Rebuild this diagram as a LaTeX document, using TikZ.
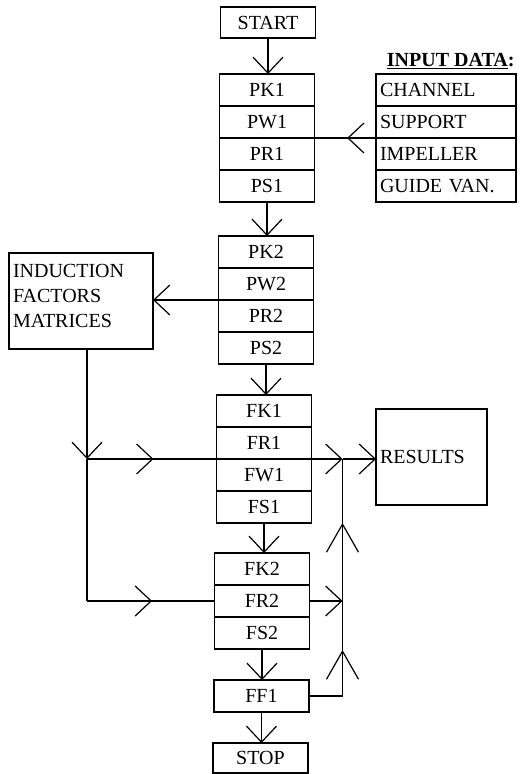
\documentclass[tikz,border=0pt]{standalone}
\usepackage{fontspec}
\setmainfont{Liberation Serif}
\usetikzlibrary{arrows.meta,positioning,decorations.markings}
\tikzset{
  vbarb/.tip={Straight Barb[length=16pt,width=30pt]},
  longbarb/.tip={Straight Barb[length=28pt,width=32pt]},
  cell/.style={draw, minimum width=95pt, minimum height=32pt, inner sep=0pt, outer sep=0pt},
  datacell/.style={cell, minimum width=140pt, text width=132pt, inner xsep=4pt, align=left},
  barbat/.style={postaction={decorate, decoration={markings, mark=at position #1 with {\arrow{vbarb}}}}}
}
\begin{document}
\begin{tikzpicture}[x=1pt, y=-1pt, line width=1.2pt, >=vbarb, font=\fontsize{20}{25}\selectfont]
  \useasboundingbox (0,0) rectangle (525,774);

  % Start and first block
  \node[cell, minimum height=31pt] (start) at (268,22.5) {START};
  \node[cell] (pk1) at (267,90) {PK1};
  \node[cell, below=0 of pk1] (pw1) {PW1};
  \node[cell, below=0 of pw1] (pr1) {PR1};
  \node[cell, below=0 of pr1] (ps1) {PS1};

  % Input data
  \node[anchor=west, font=\fontsize{20}{25}\selectfont\bfseries] (title) at (383,61) {\underline{INPUT DATA}:};
  \node[datacell] (channel) at (446,90) {CHANNEL};
  \node[datacell, below=0 of channel] (support) {SUPPORT};
  \node[datacell, below=0 of support] (impeller) {IMPELLER};
  \node[datacell, below=0 of impeller] (guide) {GUIDE VAN.};

  % Second block
  \node[cell] (pk2) at (266,252) {PK2};
  \node[cell, below=0 of pk2] (pw2) {PW2};
  \node[cell, below=0 of pw2] (pr2) {PR2};
  \node[cell, below=0 of pr2] (ps2) {PS2};

  % Induction factors
  \node[draw, outer sep=0pt, minimum width=144pt, minimum height=96pt, text width=136pt,
        inner xsep=4pt, align=left, text depth=60pt] (ind) at (81,301) {INDUCTION\\FACTORS\\MATRICES};

  % Third block
  \node[cell] (fk1) at (264,411) {FK1};
  \node[cell, below=0 of fk1] (fr1) {FR1};
  \node[cell, below=0 of fr1] (fw1) {FW1};
  \node[cell, below=0 of fw1] (fs1) {FS1};

  % Results
  \node[draw, outer sep=0pt, minimum width=111pt, minimum height=96pt, text width=103pt,
        inner xsep=4pt, align=left] (res) at (431.5,457) {RESULTS};

  % Fourth block
  \node[cell] (fk2) at (262,569) {FK2};
  \node[cell, below=0 of fk2] (fr2) {FR2};
  \node[cell, below=0 of fr2] (fs2) {FS2};

  % Final steps
  \node[cell] (ff1) at (261.5,696) {FF1};
  \node[cell, minimum height=30pt] (stop) at (260.5,758) {STOP};

  % Main flow
  \draw[->] (start.south) -- (start.south |- pk1.north);
  \draw[->] (ps1.south) -- (ps1.south |- pk2.north);
  \draw[->] (ps2.south) -- (ps2.south |- fk1.north);
  \draw[->] (fs1.south) -- (fs1.south |- fk2.north);
  \draw[->] (fs2.south) -- (fs2.south |- ff1.north);
  \draw[->] (ff1.south) -- (ff1.south |- stop.north);

  % Input data into first block
  \draw[barbat=0.47] (support.south west) -- (support.south west -| pw1.east);

  % Induction factors loop
  \draw[->] (pw2.south west) -- (pw2.south west -| ind.east);
  \coordinate (jl) at ([xshift=6pt]ind.south |- fr1.south);
  \coordinate (cl) at (jl |- fr2.west);
  \draw[->] ([xshift=6pt]ind.south) -- (jl);
  \draw (jl) -- (cl);
  \draw[barbat=0.51] (cl) -- (fr2.west);

  % Results lines
  \coordinate (jr) at ([xshift=31pt]fr1.south east);
  \coordinate (cr) at (jr |- ff1.east);
  \draw[->, barbat=0.26] (jl) -- (jr);
  \draw[->] (jr) -- (jr -| res.west);
  \draw[->] (fr2.east) -- (fr2.east -| jr);
  \draw (ff1.east) -- (cr);
  \draw[postaction={decorate, decoration={markings,
        mark=at position 0.194 with {\arrow{longbarb}},
        mark=at position 0.73 with {\arrow{longbarb}}}}] (cr) -- (jr);
\end{tikzpicture}
\end{document}
